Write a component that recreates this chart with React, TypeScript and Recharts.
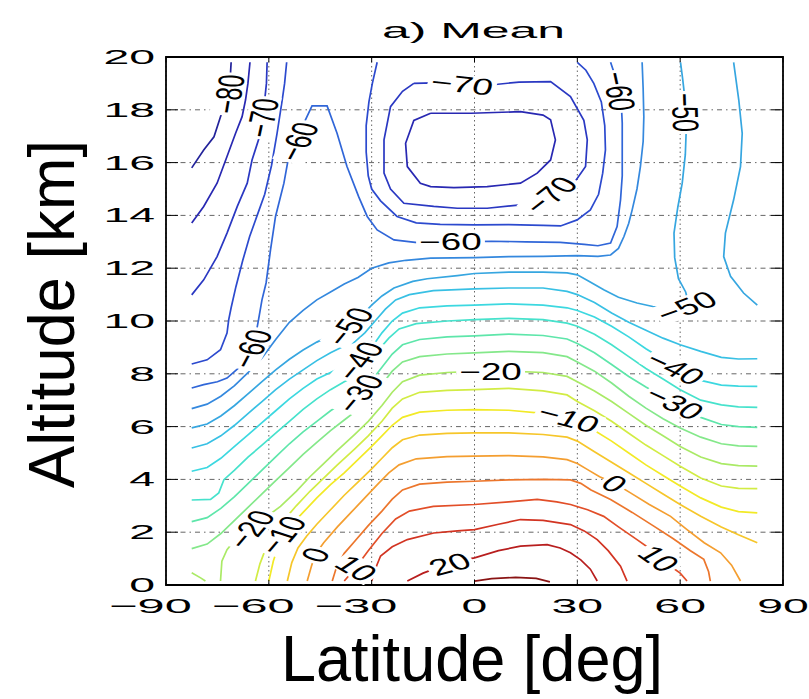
import React from "react";
import {
  ComposedChart,
  Line,
  Scatter,
  XAxis,
  YAxis,
  CartesianGrid,
  ReferenceArea,
} from "recharts";

type Pt = [number, number]; // [latitude deg, altitude km]

// ---- axis ticks ----
const latTicks = [-90, -60, -30, 0, 30, 60, 90];
const altTicks = [0, 2, 4, 6, 8, 10, 12, 14, 16, 18, 20];

// ---- contour lines, one array per line ----
const cM80: Pt[] = [[-71.0, 19.8], [-71.2, 19.35], [-71.8, 18.6], [-73.6, 17.93], [-74.1, 17.74], [-76.0, 16.98], [-79.0, 16.48], [-82.5, 15.8]];
const cM75West: Pt[] = [[-65.5, 19.8], [-66.1, 19.0], [-66.8, 18.37], [-67.8, 17.74], [-69.7, 17.11], [-72.2, 16.23], [-75.1, 15.22], [-79.0, 14.34], [-82.5, 13.71]];
const cM70West: Pt[] = [[-60.5, 19.8], [-60.7, 19.0], [-61.3, 18.25], [-62.4, 17.11], [-64.9, 16.1], [-66.3, 15.22], [-69.2, 14.34], [-72.2, 13.33], [-75.1, 12.44], [-79.0, 11.56], [-82.5, 10.99]];
const cM65West: Pt[] = [[-54.8, 19.8], [-55.4, 19.0], [-56.1, 18.37], [-57.6, 17.11], [-59.2, 15.9], [-61.2, 14.8], [-63.4, 14.0], [-65.6, 13.2], [-67.6, 12.3], [-69.6, 11.3], [-71.0, 10.5], [-71.7, 10.05], [-72.2, 9.54], [-74.1, 8.91], [-78.0, 8.53], [-82.5, 8.37]];
const cM75Loop: Pt[] = [[-12.8, 17.87], [-1, 17.87], [13.4, 17.93], [20, 17.8], [22.2, 17.62], [23.6, 16.86], [22.2, 16.1], [18.3, 15.6], [13.4, 15.22], [3.7, 15.09], [-6, 15.05], [-12.8, 15.09], [-15.8, 15.22], [-19.6, 15.85], [-20.1, 16.73], [-17.7, 17.6], [-12.8, 17.87]];
const cM70Loop: Pt[] = [[-17.7, 19.0], [-12, 19.02], [-5, 19.0], [4.7, 18.94], [13, 19.05], [22.2, 19.07], [28, 18.5], [31.9, 17.6], [32.9, 16.86], [32.4, 15.85], [29, 15.22], [22.2, 14.75], [13.4, 14.4], [3.7, 14.27], [-5, 14.27], [-11.9, 14.34], [-20.6, 14.46], [-24.5, 15.0], [-26.4, 15.6], [-26.4, 16.86], [-24.5, 18.12], [-21, 18.7], [-17.7, 19.0]];
const cM65Mid: Pt[] = [[-28.4, 19.8], [-29.8, 19.0], [-30.8, 18.3], [-31.6, 17.4], [-31.6, 16.4], [-31.0, 15.5], [-30.0, 15.0], [-27.4, 14.55], [-22.6, 13.96], [-17, 13.72], [-10, 13.66], [0, 13.64], [10, 13.65], [20, 13.62], [25.1, 13.6], [29.95, 13.83], [33.8, 14.21], [36.2, 14.8], [37.4, 15.6], [38.2, 16.48], [38.0, 17.4], [37.0, 18.3], [34.8, 19.0], [32.5, 19.5], [30.0, 19.8]];
const cM60: Pt[] = [[-82.5, 7.46], [-79, 7.59], [-75, 7.7], [-72.2, 7.84], [-68.3, 8.28], [-66, 8.7], [-64.5, 9.15], [-63.9, 9.42], [-63.0, 10.05], [-62.0, 10.8], [-60.8, 11.44], [-59.5, 12.7], [-58.05, 13.96], [-56.8, 14.6], [-55.6, 15.22], [-54.2, 16.23], [-52.5, 16.85], [-49.8, 17.49], [-47.4, 18.15], [-43.0, 18.15], [-40.1, 17.11], [-37.2, 15.85], [-33.8, 14.71], [-31.3, 13.96], [-28.4, 13.45], [-23.5, 13.07], [-16.7, 12.97], [-5, 13.0], [5, 13.02], [15, 13.0], [25, 12.98], [32, 12.9], [36, 12.85], [39.7, 12.95], [41.6, 13.58], [42.6, 14.59], [43.1, 15.5], [43.1, 16.48], [43.1, 17.5], [42.8, 18.3], [41.5, 19.1], [39.7, 19.8]];
const cM55: Pt[] = [[-82.5, 6.68], [-78, 6.85], [-74, 7.15], [-70, 7.55], [-66, 8.05], [-62, 8.6], [-58, 9.3], [-54, 9.95], [-50, 10.4], [-46, 10.8], [-42, 11.1], [-38, 11.4], [-34, 11.65], [-30, 12.0], [-25, 12.2], [-20, 12.3], [-12.8, 12.38], [0, 12.4], [10, 12.44], [20, 12.45], [30, 12.48], [36, 12.45], [39.7, 12.5], [42, 12.75], [43.6, 13.2], [45, 13.7], [46, 14.21], [47.4, 15.0], [48.4, 15.85], [49.2, 16.8], [49.4, 17.74], [49.2, 18.8], [48.9, 19.8]];
const cM50: Pt[] = [[-82.5, 5.95], [-78, 6.1], [-74, 6.4], [-70, 6.8], [-66, 7.25], [-62, 7.7], [-58, 8.15], [-54, 8.55], [-50, 8.9], [-46, 9.2], [-42, 9.45], [-38, 9.7], [-36.6, 9.8], [-33, 10.2], [-30, 10.6], [-27, 10.95], [-23.5, 11.25], [-18, 11.5], [-13.8, 11.6], [-5, 11.72], [0, 11.8], [10, 11.85], [20, 11.85], [27, 11.82], [30, 11.75], [33.5, 11.5], [37.7, 11.18], [42, 10.9], [47.4, 10.68], [52, 10.55], [57.2, 10.43], [61, 10.45], [62.3, 10.75], [61.6, 11.1], [59.5, 11.6], [58.4, 12.4], [58.2, 13.33], [59.3, 14.3], [60.6, 15.22], [61.5, 16.3], [61.8, 17.36], [61.5, 18.3], [60.7, 19.2], [60.1, 19.8]];
const cM50East: Pt[] = [[75.6, 19.8], [77.1, 18.37], [78.1, 17.11], [77.6, 15.85], [75.6, 14.59], [73.2, 13.33], [72.7, 12.44], [74.7, 11.69], [78.5, 11.06], [82.5, 10.6]];
const cM45: Pt[] = [[-82.5, 5.19], [-78, 5.35], [-74, 5.65], [-70, 6.05], [-66, 6.5], [-62, 6.95], [-58, 7.4], [-54, 7.8], [-50, 8.15], [-46, 8.5], [-42, 8.8], [-38, 9.05], [-35, 9.2], [-32, 9.55], [-29, 10.0], [-26, 10.45], [-23, 10.8], [-19, 11.0], [-12, 11.15], [0, 11.22], [10, 11.25], [20, 11.25], [27, 11.12], [30, 11.0], [35, 10.7], [40, 10.3], [45, 9.95], [50, 9.65], [55, 9.35], [60, 9.1], [66, 8.85], [72, 8.62], [77, 8.56], [82.5, 8.57]];
const cM40: Pt[] = [[-82.5, 4.31], [-78, 4.45], [-74, 4.8], [-70, 5.25], [-66, 5.7], [-62, 6.15], [-58, 6.6], [-54, 7.05], [-50, 7.45], [-46, 7.8], [-42, 8.05], [-38, 8.3], [-33.7, 8.5], [-30, 9.0], [-27, 9.55], [-24, 10.0], [-21, 10.3], [-16, 10.5], [-8, 10.57], [0, 10.6], [10, 10.65], [20, 10.6], [27, 10.5], [30, 10.4], [35, 10.15], [40, 9.8], [45, 9.4], [50, 8.95], [55, 8.55], [58.6, 8.22], [62, 7.95], [66, 7.75], [72, 7.57], [77, 7.53], [82.5, 7.52]];
const cM35: Pt[] = [[-82.5, 3.22], [-77, 3.24], [-74.6, 3.49], [-73.1, 3.99], [-70, 4.35], [-66, 4.85], [-62, 5.3], [-58, 5.75], [-54, 6.2], [-50, 6.65], [-46, 7.05], [-42, 7.4], [-38, 7.7], [-35, 7.9], [-31, 8.4], [-28, 8.9], [-25, 9.35], [-22, 9.7], [-17, 9.9], [-8, 10.0], [0, 10.05], [10, 10.1], [20, 10.05], [27, 9.92], [30, 9.8], [35, 9.5], [40, 9.1], [45, 8.65], [50, 8.2], [55, 7.8], [60, 7.4], [66, 7.0], [72, 6.82], [77, 6.75], [82.5, 6.73]];
const cM30: Pt[] = [[-82.5, 2.4], [-78, 2.55], [-74, 2.9], [-70, 3.35], [-66, 3.85], [-62, 4.35], [-58, 4.85], [-54, 5.35], [-50, 5.8], [-46, 6.2], [-42, 6.6], [-38, 6.95], [-33.7, 7.27], [-30, 7.75], [-27, 8.25], [-24, 8.75], [-21, 9.1], [-16, 9.3], [-8, 9.4], [0, 9.44], [10, 9.5], [20, 9.45], [27, 9.32], [30, 9.15], [35, 8.8], [40, 8.35], [45, 7.9], [50, 7.5], [55, 7.12], [58.4, 6.9], [62, 6.6], [66, 6.35], [72, 6.08], [77, 6.0], [82.5, 5.97]];
const cM25: Pt[] = [[-82.5, 1.38], [-78, 1.55], [-74, 1.95], [-70, 2.45], [-66, 2.95], [-62, 3.45], [-58, 3.95], [-54, 4.45], [-50, 4.95], [-46, 5.4], [-42, 5.85], [-38, 6.25], [-35, 6.55], [-31, 7.05], [-27, 7.6], [-24, 8.1], [-21, 8.45], [-16, 8.65], [-8, 8.75], [0, 8.79], [10, 8.85], [20, 8.8], [27, 8.65], [30, 8.45], [35, 8.1], [40, 7.65], [45, 7.15], [50, 6.7], [55, 6.3], [60, 5.95], [66, 5.6], [72, 5.35], [77, 5.27], [82.5, 5.25]];
const cM20Corner: Pt[] = [[-82.5, 0.46], [-79.9, 0.27], [-78.5, 0.15]];
const cM20: Pt[] = [[-74.1, 0.15], [-73.7, 0.9], [-72.2, 1.34], [-70.2, 1.66], [-67.5, 1.9], [-65.4, 2.12], [-62.5, 2.4], [-60.5, 2.6], [-56.6, 2.98], [-52, 3.55], [-48, 4.1], [-44, 4.6], [-40, 5.1], [-35, 5.7], [-31, 6.2], [-27, 6.8], [-24, 7.3], [-21, 7.7], [-16, 7.95], [-8, 8.05], [0, 8.09], [10, 8.1], [20, 8.05], [27, 7.9], [30, 7.7], [35, 7.35], [40, 6.95], [45, 6.5], [50, 6.05], [55, 5.65], [60, 5.25], [66, 4.85], [72, 4.6], [77, 4.52], [82.5, 4.5]];
const cM15: Pt[] = [[-63.9, 0.15], [-62.6, 0.8], [-61, 1.35], [-58.5, 1.9], [-56, 2.4], [-52, 3.0], [-48, 3.55], [-44, 4.05], [-40, 4.55], [-35, 5.15], [-31, 5.65], [-27, 6.2], [-24, 6.7], [-21, 7.05], [-16, 7.3], [-8, 7.37], [0, 7.4], [10, 7.45], [20, 7.35], [27, 7.2], [30, 6.95], [35, 6.6], [40, 6.2], [45, 5.75], [50, 5.3], [55, 4.9], [60, 4.5], [66, 4.05], [72, 3.75], [77, 3.66], [82.5, 3.65]];
const cM10: Pt[] = [[-60.0, 0.15], [-58.7, 0.9], [-57.2, 1.5], [-56.2, 1.9], [-54, 2.2], [-50, 2.75], [-46, 3.3], [-42, 3.8], [-38, 4.25], [-34, 4.75], [-30, 5.25], [-27, 5.65], [-24, 6.05], [-21, 6.35], [-16, 6.55], [-8, 6.62], [0, 6.64], [10, 6.62], [20, 6.5], [27.5, 6.32], [30, 6.2], [35, 5.85], [40, 5.45], [45, 5.0], [50, 4.55], [55, 4.15], [60, 3.75], [66, 3.3], [72, 2.95], [77, 2.78], [82.5, 2.73]];
const cM5: Pt[] = [[-54.6, 0.15], [-53.3, 0.85], [-51.5, 1.4], [-49, 1.85], [-46, 2.3], [-42, 2.85], [-38, 3.4], [-34, 3.9], [-30, 4.4], [-27, 4.8], [-24, 5.2], [-21, 5.5], [-16, 5.68], [-8, 5.74], [0, 5.76], [10, 5.76], [20, 5.7], [27, 5.6], [30, 5.45], [35, 5.05], [40, 4.65], [45, 4.25], [50, 3.85], [55, 3.45], [60, 3.05], [66, 2.6], [72, 2.2], [77, 1.9], [82.5, 1.6]];
const c0: Pt[] = [[-48.8, 0.15], [-47.6, 0.7], [-46.5, 1.15], [-44, 1.6], [-40, 2.2], [-36, 2.75], [-32, 3.3], [-28, 3.85], [-25, 4.25], [-22, 4.55], [-17, 4.78], [-8, 4.86], [0, 4.88], [10, 4.9], [20, 4.85], [27, 4.75], [30, 4.6], [33, 4.37], [36.5, 4.1], [40.9, 3.85], [45.5, 3.49], [51, 3.05], [57.2, 2.6], [62, 2.1], [67, 1.6], [71.8, 1.22], [75, 0.75], [77.6, 0.15]];
const cP5: Pt[] = [[-41.5, 0.15], [-40.2, 0.7], [-38, 1.2], [-35, 1.65], [-31, 2.25], [-27, 2.8], [-24, 3.25], [-21, 3.6], [-16, 3.82], [-8, 3.9], [0, 3.93], [10, 3.98], [20, 4.0], [28, 3.98], [31, 3.85], [34, 3.6], [39.7, 3.24], [46, 2.75], [52.3, 2.23], [58, 1.75], [63, 1.3], [66.9, 0.97], [68.3, 0.5], [68.8, 0.15]];
const cP10: Pt[] = [[-38, 0.15], [-35, 0.6], [-31, 1.3], [-27, 1.95], [-23, 2.5], [-19, 2.8], [-12, 2.98], [0, 3.05], [10, 3.15], [18.3, 3.24], [24, 3.15], [28, 3.05], [33, 2.85], [37.7, 2.6], [42, 2.2], [47.4, 1.72], [52, 1.3], [57.2, 0.71], [60, 0.45], [62, 0.15]];
const cP15: Pt[] = [[-30, 0.15], [-28.5, 0.75], [-27.4, 1.1], [-24, 1.45], [-19.6, 1.72], [-11.9, 1.97], [-5, 2.05], [0, 2.1], [7, 2.3], [13.4, 2.48], [20, 2.45], [28, 2.29], [32, 2.05], [35.8, 1.72], [39, 1.3], [42.6, 0.71], [44.5, 0.15]];
const cP20: Pt[] = [[-19.6, 0.15], [-15, 0.45], [-11.9, 0.6], [-7.3, 0.8], [-3, 0.95], [0, 1.03], [7, 1.3], [13.4, 1.47], [21.2, 1.53], [25, 1.4], [28, 1.22], [31, 0.95], [33.8, 0.6], [35.8, 0.15]];
const cP25: Pt[] = [[0, 0.15], [5, 0.24], [12, 0.29], [18, 0.25], [22, 0.12]];

// inline contour labels: [text, lat, alt]
const contourLabels: [string, number, number][] = [
  ["−80", -71.8, 18.6], ["−70", -62.0, 17.7], ["−60", -51.6, 16.8],
  ["−70", -3.6, 18.97], ["−70", 22.0, 14.78], ["−60", -7.0, 13.0],
  ["−60", 42.3, 18.7], ["−50", 61.65, 17.9], ["−50", 61.8, 10.55],
  ["−60", -65.2, 8.95], ["−50", -36.6, 9.8], ["−40", -33.7, 8.5],
  ["−30", -33.7, 7.27], ["−20", 4.7, 8.08], ["−10", 27.5, 6.32],
  ["0", 40.9, 3.85], ["10", 53.8, 1.0], ["−40", 58.6, 8.22],
  ["−30", 58.4, 6.9], ["−20", -65.4, 2.12], ["−10", -56.2, 1.9],
  ["0", -46.5, 1.15], ["10", -34.4, 0.64], ["20", -7.3, 0.8],
];
// on-screen text angle of each label (deg, negative = rising to the right)
const labelAngles = [-80, -78, -62, 6, -38, 0, 78, 88, -20, -62, -50, -50, -50, 0, 15, 25, 35, 25, 25, -50, -50, -50, 30, -15];

const levelColors: Record<number, string> = {
  [-80]: "#22229a", [-75]: "#2828b2", [-70]: "#2a38c2", [-65]: "#2c4ace",
  [-60]: "#3066d8", [-55]: "#3488de", [-50]: "#36a6e0", [-45]: "#38c0e4",
  [-40]: "#3cd8e0", [-35]: "#46e2cc", [-30]: "#5ee6aa", [-25]: "#84e88a",
  [-20]: "#aaea66", [-15]: "#d2ec44", [-10]: "#f2ea26", [-5]: "#f6c62a",
  [0]: "#f49e30", [5]: "#ec762c", [10]: "#e24e28", [15]: "#d23422",
  [20]: "#b81e1e", [25]: "#8a1414",
};

const contours: { level: number; pts: Pt[] }[] = [
  { level: -80, pts: cM80 }, { level: -75, pts: cM75West }, { level: -75, pts: cM75Loop },
  { level: -70, pts: cM70West }, { level: -70, pts: cM70Loop },
  { level: -65, pts: cM65West }, { level: -65, pts: cM65Mid },
  { level: -60, pts: cM60 }, { level: -55, pts: cM55 },
  { level: -50, pts: cM50 }, { level: -50, pts: cM50East },
  { level: -45, pts: cM45 }, { level: -40, pts: cM40 }, { level: -35, pts: cM35 },
  { level: -30, pts: cM30 }, { level: -25, pts: cM25 },
  { level: -20, pts: cM20 }, { level: -20, pts: cM20Corner },
  { level: -15, pts: cM15 }, { level: -10, pts: cM10 }, { level: -5, pts: cM5 },
  { level: 0, pts: c0 }, { level: 5, pts: cP5 }, { level: 10, pts: cP10 },
  { level: 15, pts: cP15 }, { level: 20, pts: cP20 }, { level: 25, pts: cP25 },
];

// ---- layout ----
const W = 809;
const H = 699;
const PLOT_LEFT = 166;
const PLOT_RIGHT = 783;
const PLOT_TOP = 57;
const PLOT_BOTTOM = 585;
const FONT = "'Liberation Sans', Arial, Helvetica, sans-serif";
const DIGIT_W = 25.8;
const MINUS_W = 31;

const fmt = (v: number) => (v < 0 ? `−${Math.abs(v)}` : `${v}`);

function XTick(props: any) {
  const { x, payload } = props;
  const v = payload.value as number;
  const nd = String(Math.abs(v)).length;
  const neg = v < 0;
  const w = nd * DIGIT_W + (neg ? MINUS_W : 0);
  const start = x - (nd * DIGIT_W) / 2 - (neg ? MINUS_W : 0);
  return (
    <g>
      <line x1={x} x2={x} y1={PLOT_BOTTOM} y2={PLOT_BOTTOM - 5} stroke="#000" />
      <line x1={x} x2={x} y1={PLOT_TOP} y2={PLOT_TOP + 5} stroke="#000" />
      <text x={start} y={PLOT_BOTTOM + 28} textLength={w} lengthAdjust="spacingAndGlyphs"
        fontSize={21} fontFamily={FONT} fill="#000">{fmt(v)}</text>
    </g>
  );
}

function YTick(props: any) {
  const { y, payload } = props;
  const v = payload.value as number;
  const w = String(v).length * DIGIT_W;
  return (
    <g>
      <line x1={PLOT_LEFT} x2={PLOT_LEFT + 12} y1={y} y2={y} stroke="#000" />
      <line x1={PLOT_RIGHT} x2={PLOT_RIGHT - 12} y1={y} y2={y} stroke="#000" />
      <text x={PLOT_LEFT - 11 - w} y={y + 7} textLength={w} lengthAdjust="spacingAndGlyphs"
        fontSize={20} fontFamily={FONT} fill="#000">{v}</text>
    </g>
  );
}

const LABEL_F = 23;
const LABEL_S = 1.6;

function ContourLabel(props: any) {
  const { cx, cy, payload } = props;
  if (cx == null || cy == null) return null;
  const text: string = payload.text;
  const th = (payload.angle * Math.PI) / 180;
  const thp = (Math.atan2(LABEL_S * Math.sin(th), Math.cos(th)) * 180) / Math.PI;
  let em = 0;
  for (const ch of text) em += ch === "−" ? 0.584 : 0.556;
  const w = em * LABEL_F;
  return (
    <g transform={`translate(${cx},${cy}) scale(${LABEL_S},1) rotate(${thp})`}>
      <rect x={-w / 2 - 2} y={-LABEL_F * 0.42} width={w + 4} height={LABEL_F * 0.84} fill="#fff" />
      <text x={0} y={LABEL_F * 0.36} textAnchor="middle" fontSize={LABEL_F} fontFamily={FONT} fill="#000">
        {text}
      </text>
    </g>
  );
}

export default function App() {
  const labelRows = contourLabels.map(([text, lat, alt], i) => ({ lat, alt, text, angle: labelAngles[i] }));

  return (
    <div style={{ position: "absolute", left: 0, top: 0, width: W, height: H, background: "#fff" }}>
      <ComposedChart
        width={W}
        height={H}
        margin={{ top: PLOT_TOP, right: W - PLOT_RIGHT, bottom: 0, left: 0 }}
      >
        <CartesianGrid horizontal={false} stroke="#666" strokeDasharray="1.5 3" />
        <CartesianGrid vertical={false} stroke="#666" strokeDasharray="5 4 1.5 4" />
        <XAxis
          type="number"
          dataKey="lat"
          domain={[-90, 90]}
          ticks={latTicks}
          allowDataOverflow
          height={H - PLOT_BOTTOM}
          tickLine={false}
          axisLine={false}
          tick={(p: any) => <XTick {...p} />}
        />
        <YAxis
          type="number"
          dataKey="alt"
          domain={[0, 20]}
          ticks={altTicks}
          allowDataOverflow
          width={PLOT_LEFT}
          tickLine={false}
          axisLine={false}
          tick={(p: any) => <YTick {...p} />}
        />
        <ReferenceArea x1={-90} x2={90} y1={0} y2={20} fill="none" stroke="#000" strokeWidth={1.8} />
        {contours.map((c, i) => (
          <Line
            key={i}
            data={c.pts.map(([lat, alt]) => ({ lat, alt }))}
            dataKey="alt"
            type="linear"
            stroke={levelColors[c.level]}
            strokeWidth={1.7}
            dot={false}
            activeDot={false}
            isAnimationActive={false}
          />
        ))}
        <Scatter
          data={labelRows}
          isAnimationActive={false}
          shape={(p: any) => <ContourLabel {...p} />}
        />
      </ComposedChart>
      <svg width={W} height={H} style={{ position: "absolute", left: 0, top: 0, pointerEvents: "none" }}>
        <text x={473.5} y={38} textAnchor="middle" fontSize={22} fontFamily={FONT}
          textLength={183} lengthAdjust="spacingAndGlyphs">a) Mean</text>
        <text x={472} y={681} textAnchor="middle" fontSize={65} fontFamily={FONT}
          textLength={382} lengthAdjust="spacingAndGlyphs">Latitude [deg]</text>
        <text transform="translate(74,314) rotate(-90)" x={0} y={0} textAnchor="middle" fontSize={64}
          fontFamily={FONT} textLength={348} lengthAdjust="spacingAndGlyphs">Altitude [km]</text>
      </svg>
    </div>
  );
}
